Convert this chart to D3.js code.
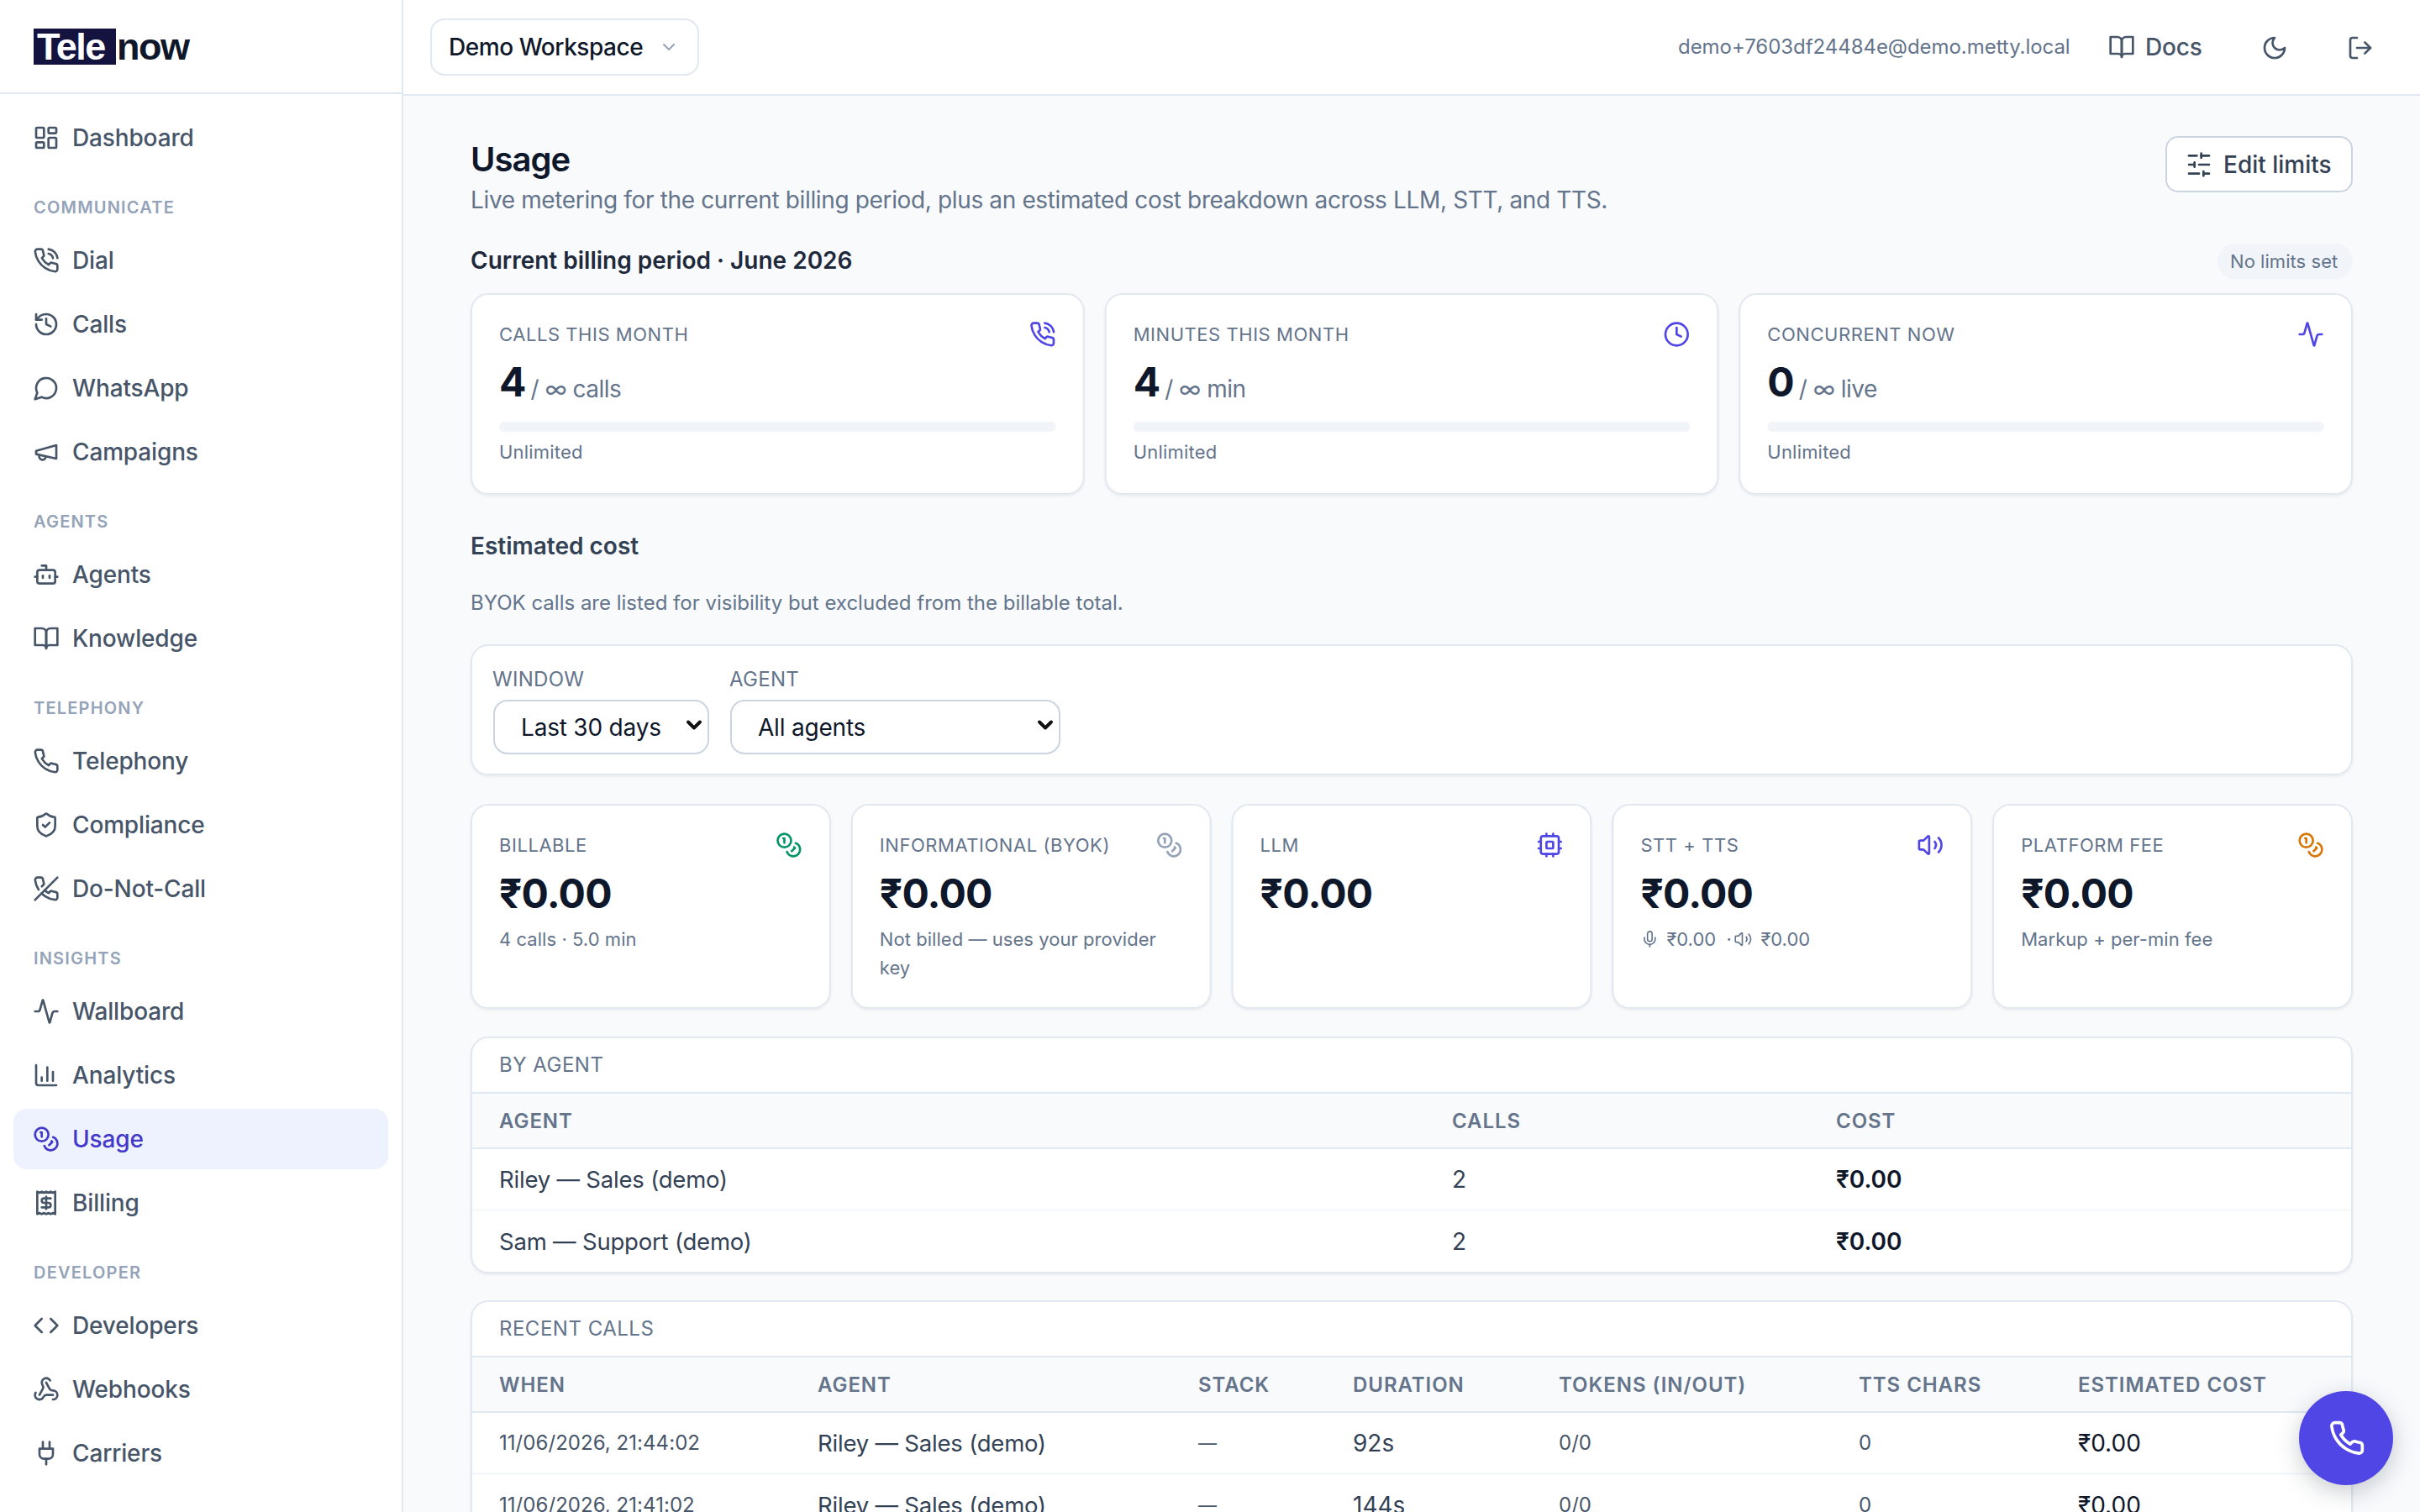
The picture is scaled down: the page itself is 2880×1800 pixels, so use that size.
<!doctype html>
<html lang="en">
<head>
<meta charset="UTF-8">
<title>Usage</title>
<script src="https://cdn.jsdelivr.net/npm/d3@7"></script>
<style>
	html, body { margin: 0; padding: 0; background: #f8fafc; overflow: hidden; }
	svg { display: block; font-family: Inter, "Noto Sans", sans-serif; }
	.card { filter: drop-shadow(0 2px 1.5px rgba(15, 23, 42, 0.06)); }
</style>
</head>
<body>
<div id="container"></div>
<script>
	// sidebar
	var navSections = [null, "COMMUNICATE", "AGENTS", "TELEPHONY", "INSIGHTS", "DEVELOPER"];
	var navItems = [
		[["Dashboard", "dashboard"]],
		[["Dial", "phoneCall"], ["Calls", "history"], ["WhatsApp", "message"], ["Campaigns", "megaphone"]],
		[["Agents", "bot"], ["Knowledge", "book"]],
		[["Telephony", "phone"], ["Compliance", "shield"], ["Do-Not-Call", "phoneOff"]],
		[["Wallboard", "activity"], ["Analytics", "chart"], ["Usage", "coins"], ["Billing", "receipt"]],
		[["Developers", "code"], ["Webhooks", "webhook"], ["Carriers", "plug"]]
	];
	var activeNav = "Usage";

	// quota cards
	var quotaLabels = ["CALLS THIS MONTH", "MINUTES THIS MONTH", "CONCURRENT NOW"];
	var quotaValues = [4, 4, 0];
	var quotaUnits = ["/ ∞ calls", "/ ∞ min", "/ ∞ live"];
	var quotaNotes = ["Unlimited", "Unlimited", "Unlimited"];
	var quotaIcons = ["phoneCall", "clock", "activity"];

	// cost cards
	var costLabels = ["BILLABLE", "INFORMATIONAL (BYOK)", "LLM", "STT + TTS", "PLATFORM FEE"];
	var costValues = ["₹0.00", "₹0.00", "₹0.00", "₹0.00", "₹0.00"];
	var costNotes = [["4 calls · 5.0 min"], ["Not billed — uses your provider", "key"], [], null, ["Markup + per-min fee"]];
	var costIcons = ["coins", "coins", "cpu", "volume", "coins"];
	var costColors = ["#059669", "#94a3b8", "#4f46e5", "#4f46e5", "#d97706"];

	// tables
	var agentColumns = ["AGENT", "CALLS", "COST"];
	var agentNames = ["Riley — Sales (demo)", "Sam — Support (demo)"];
	var agentCalls = [2, 2];
	var agentCosts = ["₹0.00", "₹0.00"];

	var recentColumns = ["WHEN", "AGENT", "STACK", "DURATION", "TOKENS (IN/OUT)", "TTS CHARS", "ESTIMATED COST"];
	var recentWhen = ["11/06/2026, 21:44:02", "11/06/2026, 21:41:02"];
	var recentAgent = ["Riley — Sales (demo)", "Riley — Sales (demo)"];
	var recentStack = ["—", "—"];
	var recentDuration = ["92s", "144s"];
	var recentTokens = ["0/0", "0/0"];
	var recentChars = [0, 0];
	var recentCost = ["₹0.00", "₹0.00"];

	// lucide style outlines, 24 unit box
	var icons = {
		dashboard: '<rect width="7" height="9" x="3" y="3" rx="1"/><rect width="7" height="5" x="14" y="3" rx="1"/><rect width="7" height="9" x="14" y="12" rx="1"/><rect width="7" height="5" x="3" y="16" rx="1"/>',
		phone: '<path d="M22 16.92v3a2 2 0 0 1-2.18 2 19.79 19.79 0 0 1-8.63-3.07 19.5 19.5 0 0 1-6-6 19.79 19.79 0 0 1-3.07-8.67A2 2 0 0 1 4.11 2h3a2 2 0 0 1 2 1.72 12.84 12.84 0 0 0 .7 2.81 2 2 0 0 1-.45 2.11L8.09 9.91a16 16 0 0 0 6 6l1.27-1.27a2 2 0 0 1 2.11-.45 12.84 12.84 0 0 0 2.81.7A2 2 0 0 1 22 16.92z"/>',
		phoneCall: '<path d="M22 16.92v3a2 2 0 0 1-2.18 2 19.79 19.79 0 0 1-8.63-3.07 19.5 19.5 0 0 1-6-6 19.79 19.79 0 0 1-3.07-8.67A2 2 0 0 1 4.11 2h3a2 2 0 0 1 2 1.72 12.84 12.84 0 0 0 .7 2.81 2 2 0 0 1-.45 2.11L8.09 9.91a16 16 0 0 0 6 6l1.27-1.27a2 2 0 0 1 2.11-.45 12.84 12.84 0 0 0 2.81.7A2 2 0 0 1 22 16.92z"/><path d="M14.05 2a9 9 0 0 1 8 7.94"/><path d="M14.05 6A5 5 0 0 1 18 10"/>',
		history: '<path d="M3 12a9 9 0 1 0 9-9 9.75 9.75 0 0 0-6.74 2.74L3 8"/><path d="M3 3v5h5"/><path d="M12 7v5l4 2"/>',
		message: '<path d="M7.9 20A9 9 0 1 0 4 16.1L2 22Z"/>',
		megaphone: '<path d="m3 11 18-5v12L3 14v-3z"/><path d="M11.6 16.8a3 3 0 1 1-5.8-1.6"/>',
		bot: '<path d="M12 8V4H8"/><rect width="16" height="12" x="4" y="8" rx="2"/><path d="M2 14h2"/><path d="M20 14h2"/><path d="M15 13v2"/><path d="M9 13v2"/>',
		book: '<path d="M2 3h6a4 4 0 0 1 4 4v14a3 3 0 0 0-3-3H2z"/><path d="M22 3h-6a4 4 0 0 0-4 4v14a3 3 0 0 1 3-3h7z"/>',
		shield: '<path d="M20 13c0 5-3.5 7.5-7.66 8.95a1 1 0 0 1-.67-.01C7.5 20.5 4 18 4 13V6a1 1 0 0 1 1-1c2 0 4.5-1.2 6.24-2.72a1.17 1.17 0 0 1 1.52 0C14.51 3.81 17 5 19 5a1 1 0 0 1 1 1z"/><path d="m9 12 2 2 4-4"/>',
		phoneOff: '<path d="M10.68 13.31a16 16 0 0 0 3.41 2.6l1.27-1.27a2 2 0 0 1 2.11-.45 12.84 12.84 0 0 0 2.81.7 2 2 0 0 1 1.72 2v3a2 2 0 0 1-2.18 2 19.79 19.79 0 0 1-8.63-3.07 19.42 19.42 0 0 1-3.33-2.67m-2.67-3.34a19.79 19.79 0 0 1-3.07-8.63A2 2 0 0 1 4.11 2h3a2 2 0 0 1 2 1.72 12.84 12.84 0 0 0 .7 2.81 2 2 0 0 1-.45 2.11L8.09 9.91"/><path d="M22 2 2 22"/>',
		activity: '<path d="M22 12h-2.48a2 2 0 0 0-1.93 1.46l-2.35 8.36a.25.25 0 0 1-.48 0L9.24 2.18a.25.25 0 0 0-.48 0l-2.35 8.36A2 2 0 0 1 4.49 12H2"/>',
		chart: '<path d="M3 3v16a2 2 0 0 0 2 2h16"/><path d="M18 17V9"/><path d="M13 17V5"/><path d="M8 17v-3"/>',
		coins: '<circle cx="8" cy="8" r="6"/><path d="M18.09 10.37A6 6 0 1 1 10.34 18"/><path d="M7 6h1v4"/><path d="m16.71 13.88.7.71-2.82 2.82"/>',
		receipt: '<path d="M4 2v20l2-1 2 1 2-1 2 1 2-1 2 1 2-1 2 1V2l-2 1-2-1-2 1-2-1-2 1-2-1-2 1Z"/><path d="M16 8h-6a2 2 0 1 0 0 4h4a2 2 0 1 1 0 4H8"/><path d="M12 17.5v-11"/>',
		code: '<path d="m16 18 6-6-6-6"/><path d="m8 6-6 6 6 6"/>',
		webhook: '<path d="M18 16.98h-5.99c-1.1 0-1.95.94-2.48 1.9A4 4 0 0 1 2 17c.01-.7.2-1.4.57-2"/><path d="m6 17 3.13-5.78c.53-.97.1-2.18-.5-3.1a4 4 0 1 1 6.89-4.06"/><path d="m12 6 3.13 5.73C15.66 12.7 16.9 13 18 13a4 4 0 0 1 0 8"/>',
		plug: '<path d="M12 22v-5"/><path d="M9 8V2"/><path d="M15 8V2"/><path d="M18 8v5a4 4 0 0 1-4 4h-4a4 4 0 0 1-4-4V8Z"/>',
		clock: '<circle cx="12" cy="12" r="10"/><path d="M12 6v6l4 2"/>',
		chevron: '<path d="m6 9 6 6 6-6"/>',
		moon: '<path d="M12 3a6 6 0 0 0 9 9 9 9 0 1 1-9-9Z"/>',
		logout: '<path d="M9 21H5a2 2 0 0 1-2-2V5a2 2 0 0 1 2-2h4"/><path d="m16 17 5-5-5-5"/><path d="M21 12H9"/>',
		sliders: '<path d="M21 4h-7"/><path d="M10 4H3"/><path d="M21 12h-9"/><path d="M8 12H3"/><path d="M21 20h-5"/><path d="M12 20H3"/><path d="M14 2v4"/><path d="M8 10v4"/><path d="M16 18v4"/>',
		cpu: '<rect width="16" height="16" x="4" y="4" rx="2"/><rect width="6" height="6" x="9" y="9" rx="1"/><path d="M15 2v2"/><path d="M15 20v2"/><path d="M2 15h2"/><path d="M2 9h2"/><path d="M20 15h2"/><path d="M20 9h2"/><path d="M9 2v2"/><path d="M9 20v2"/>',
		volume: '<path d="M11 4.702a.705.705 0 0 0-1.203-.498L6.413 7.587A1.4 1.4 0 0 1 5.416 8H3a1 1 0 0 0-1 1v6a1 1 0 0 0 1 1h2.416a1.4 1.4 0 0 1 .997.413l3.383 3.384A.705.705 0 0 0 11 19.298z"/><path d="M16 9a5 5 0 0 1 0 6"/><path d="M19.364 18.364a9 9 0 0 0 0-12.728"/>',
		mic: '<path d="M12 19v3"/><path d="M19 10v2a7 7 0 0 1-14 0v-2"/><rect x="9" y="2" width="6" height="13" rx="3"/>'
	};

	var width = 2880, height = 1800;
	var slate900 = "#0f172a", slate800 = "#1e293b", slate700 = "#334155", slate600 = "#475569",
		slate500 = "#64748b", slate400 = "#94a3b8", line = "#e2e8f0", indigo = "#4f46e5";

	var svg = d3.select("#container").append("svg")
		.attr("width", width)
		.attr("height", height);

	function txt(parent, x, y, s, size, weight, color, spacing, anchor) {
		return parent.append("text")
			.attr("x", x)
			.attr("y", y)
			.attr("dominant-baseline", "central")
			.attr("text-anchor", anchor || "start")
			.attr("font-size", size)
			.attr("font-weight", weight)
			.attr("letter-spacing", spacing || 0)
			.attr("fill", color)
			.text(s);
	}

	function icon(parent, name, cx, cy, size, color, sw) {
		return parent.append("g")
			.attr("transform", "translate(" + (cx - size / 2) + "," + (cy - size / 2) + ") scale(" + (size / 24) + ")")
			.attr("fill", "none")
			.attr("stroke", color)
			.attr("stroke-width", sw || 2)
			.attr("stroke-linecap", "round")
			.attr("stroke-linejoin", "round")
			.html(icons[name]);
	}

	function box(parent, x, y, w, h, r, fill, stroke, sw, cls) {
		return parent.append("rect")
			.attr("class", cls || null)
			.attr("x", x + (sw || 0) / 2)
			.attr("y", y + (sw || 0) / 2)
			.attr("width", w - (sw || 0))
			.attr("height", h - (sw || 0))
			.attr("rx", r)
			.attr("fill", fill)
			.attr("stroke", stroke || "none")
			.attr("stroke-width", sw || 0);
	}

	svg.append("rect").attr("width", width).attr("height", height).attr("fill", "#f8fafc");

	// top bar
	var topBar = svg.append("g");
	box(topBar, 480, 0, width - 480, 114, 0, "#fff");
	box(topBar, 480, 112, width - 480, 2, 0, line);
	box(topBar, 512, 22, 320, 68, 16, "#fff", line, 2);
	txt(topBar, 534, 56, "Demo Workspace", 28, 500, slate900, -0.45);
	icon(topBar, "chevron", 796, 56, 24, slate400);
	txt(topBar, 1997, 55, "demo+7603df24484e@demo.metty.local", 24, 400, slate500, -0.05);
	icon(topBar, "book", 2525, 56, 32, slate600);
	txt(topBar, 2553, 56, "Docs", 28, 500, slate600, -0.2);
	icon(topBar, "moon", 2707, 57, 32, slate600);
	icon(topBar, "logout", 2809, 57, 32, slate600);

	// sidebar
	var side = svg.append("g");
	box(side, 0, 0, 480, height, 0, "#fff");
	box(side, 478, 0, 2, height, 0, line);
	box(side, 0, 110, 478, 2, 0, line);
	box(side, 40, 34, 98, 43, 0, "#14123f");
	var logoText = side.append("text")
		.attr("y", 55)
		.attr("dominant-baseline", "central")
		.attr("font-family", "'Liberation Sans', Arial, sans-serif")
		.attr("font-size", 45)
		.attr("font-weight", 700)
		.attr("letter-spacing", -1.5);
	logoText.append("tspan").attr("x", 44).attr("fill", "#fff").text("Tele");
	logoText.append("tspan").attr("x", 139).attr("fill", "#0f172a").text("now");

	var y = 164;
	navSections.forEach(function (section, i) {
		if (section) {
			y += 83;
			txt(side, 40, y, section, 20, 600, slate400, 1.2);
			y += 63;
		}
		navItems[i].forEach(function (item, j) {
			if (j > 0) { y += 76; }
			var on = item[0] === activeNav;
			if (on) { box(side, 16, y - 36, 446, 72, 16, "#eef2ff"); }
			icon(side, item[1], 55, y, 32, on ? "#4338ca" : slate600);
			txt(side, 86, y, item[0], 28, 500, on ? "#4338ca" : slate600, -0.15);
		});
	});

	// page head
	var main = svg.append("g");
	txt(main, 560, 189, "Usage", 40, 600, slate900, -1);
	txt(main, 560, 238, "Live metering for the current billing period, plus an estimated cost breakdown across LLM, STT, and TTS.", 28, 400, slate500, -0.36);
	txt(main, 560, 310, "Current billing period · June 2026", 28, 600, slate800);

	box(main, 2577, 162, 223, 67, 14, "#fff", "#cbd5e1", 2);
	icon(main, "sliders", 2617, 196, 32, slate700);
	txt(main, 2646, 196, "Edit limits", 28, 500, slate700);
	box(main, 2639, 290, 161, 42, 21, "#f1f5f9");
	txt(main, 2654, 311, "No limits set", 22, 400, slate500, 0.05);

	// quota cards
	var quotaX = d3.scaleBand()
		.domain(d3.range(quotaLabels.length))
		.range([560, 2800])
		.paddingInner(24 / 754.67);

	quotaLabels.forEach(function (label, i) {
		var x = quotaX(i), w = quotaX.bandwidth();
		box(main, x, 349, w, 240, 20, "#fff", line, 2, "card");
		txt(main, x + 34, 398, label, 22, 400, slate500, 0.55);
		icon(main, quotaIcons[i], x + w - 50, 398, 32, indigo);
		var v = txt(main, x + 34, 454, quotaValues[i], 48, 700, slate900);
		var vw = v.node().getComputedTextLength();
		txt(main, x + 34 + vw + 5, 463, quotaUnits[i], 28, 400, slate500, -0.5);
		box(main, x + 34, 502, w - 68, 12, 6, "#f1f5f9");
		txt(main, x + 34, 538, quotaNotes[i], 22, 400, slate500, 0.2);
	});

	// estimated cost
	txt(main, 560, 650, "Estimated cost", 28, 600, slate700);
	txt(main, 560, 717, "BYOK calls are listed for visibility but excluded from the billable total.", 24, 400, slate500);

	box(main, 560, 767, 2240, 156, 20, "#fff", line, 2, "card");
	txt(main, 586, 808, "WINDOW", 24, 400, slate500, 0.3);
	txt(main, 868, 808, "AGENT", 24, 400, slate500, 0.3);
	box(main, 587, 833, 257, 65, 16, "#fff", "#cbd5e1", 2);
	txt(main, 620, 866, "Last 30 days", 28, 400, slate900, -0.2);
	box(main, 869, 833, 393, 65, 16, "#fff", "#cbd5e1", 2);
	txt(main, 902, 866, "All agents", 28, 400, slate900, -0.2);
	icon(main, "chevron", 826, 863, 28, "#111", 3.4);
	icon(main, "chevron", 1244, 863, 28, "#111", 3.4);

	// cost cards
	var costX = d3.scaleBand()
		.domain(d3.range(costLabels.length))
		.range([560, 2800])
		.paddingInner(24 / 452.8);

	costLabels.forEach(function (label, i) {
		var x = costX(i), w = costX.bandwidth();
		box(main, x, 957, w, 244, 20, "#fff", line, 2, "card");
		txt(main, x + 34, 1006, label, 22, 400, slate500, 0.55);
		icon(main, costIcons[i], x + w - 50, 1006, 32, costColors[i]);
		txt(main, x + 34, 1063, costValues[i], 48, 700, slate900, -0.8);
		if (costNotes[i]) {
			costNotes[i].forEach(function (note, j) {
				txt(main, x + 34, 1118 + j * 34, note, 22, 400, slate500, 0.05);
			});
		} else {
			icon(main, "mic", x + 45, 1118, 22, slate500, 1.8);
			txt(main, x + 65, 1118, "₹0.00", 22, 400, slate500);
			txt(main, x + 136, 1118, "·", 22, 400, slate500);
			icon(main, "volume", x + 156, 1118, 22, slate500, 1.8);
			txt(main, x + 177, 1118, "₹0.00", 22, 400, slate500);
		}
	});

	// tables
	function table(tableTop, title, columns, columnX, rows, bottom, rowStyles) {
		var rowY = d3.scaleLinear().domain([0, 1]).range([tableTop + 169.5, tableTop + 169.5 + 74]);
		box(main, 560, tableTop, 2240, bottom - tableTop, 20, "#fff", line, 2, "card");
		txt(main, 594, tableTop + 33, title, 24, 400, slate500, 0.5);
		box(main, 562, tableTop + 67, 2236, 66, 0, "#f8fafc");
		box(main, 562, tableTop + 66, 2236, 2, 0, line);
		box(main, 562, tableTop + 132, 2236, 2, 0, line);
		columns.forEach(function (c) {
			txt(main, columnX(c), tableTop + 100, c, 24, 600, slate500, 0.95);
		});
		rows.forEach(function (row, r) {
			if (r < rows.length - 1) { box(main, 562, rowY(r) + 36, 2236, 2, 0, "#f1f5f9"); }
			columns.forEach(function (c, i) {
				var st = rowStyles[i];
				txt(main, columnX(c), rowY(r), row[i], st[0], st[1], st[2], st[3]);
			});
		});
	}

	var agentX = d3.scaleOrdinal().domain(agentColumns).range([594, 1728, 2185]);
	table(1234, "BY AGENT", agentColumns, agentX,
		d3.zip(agentNames, agentCalls, agentCosts), 1516,
		[[27.5, 400, slate700, -0.2], [28, 400, slate700], [28, 600, slate900]]);

	var recentX = d3.scaleOrdinal().domain(recentColumns).range([594, 973, 1426, 1610, 1855, 2212, 2473]);
	table(1548, "RECENT CALLS", recentColumns, recentX,
		d3.zip(recentWhen, recentAgent, recentStack, recentDuration, recentTokens, recentChars, recentCost), 1900,
		[[24, 400, slate600, 0.05], [27.5, 400, slate700, -0.2], [22, 400, slate600], [28, 400, slate700], [24, 400, slate600], [24, 400, slate600], [28, 400, slate900]]);

	// call button
	main.append("circle")
		.attr("cx", 2792).attr("cy", 1712).attr("r", 56)
		.attr("fill", indigo)
		.style("filter", "drop-shadow(0 8px 14px rgba(15, 23, 42, 0.22))");
	icon(main, "phone", 2793, 1712, 44, "#fff");
</script>
</body>
</html>
